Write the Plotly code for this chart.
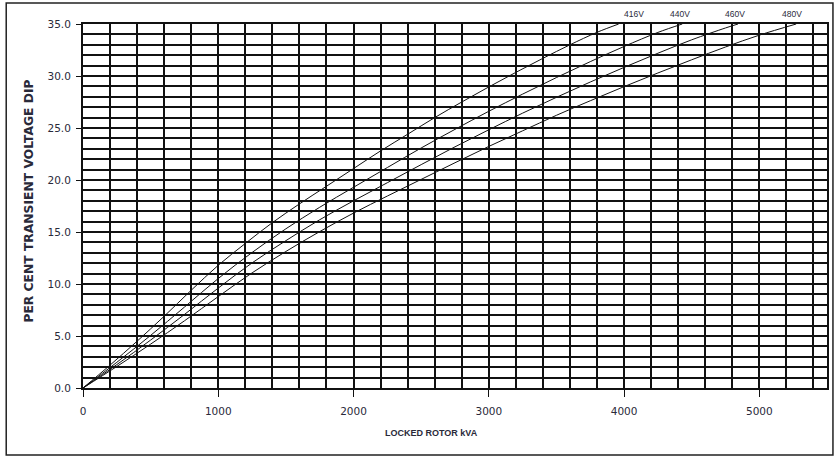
import plotly.graph_objects as go

# ---- data ----
x_416 = [0, 200, 400, 600, 800, 1000, 1200, 1400, 1600, 1800, 2000, 2200, 2400, 2600, 2800, 3000, 3200, 3400, 3600, 3800, 3960]
y_416 = [0, 2.2, 4.5, 6.9, 9.4, 11.8, 13.9, 15.9, 17.7, 19.4, 21.1, 22.8, 24.4, 26.0, 27.5, 28.95, 30.35, 31.7, 33.0, 34.2, 35.0]

x_440 = [0, 250, 500, 750, 1000, 1250, 1500, 1750, 2000, 2250, 2500, 2750, 3000, 3250, 3500, 3750, 4000, 4250, 4430]
y_440 = [0, 2.47, 5.06, 7.78, 10.53, 13.03, 15.31, 17.38, 19.30, 21.20, 23.08, 24.87, 26.61, 28.26, 29.85, 31.38, 32.84, 34.19, 35.0]

x_460 = [0, 250, 500, 750, 1000, 1250, 1500, 1750, 2000, 2250, 2500, 2750, 3000, 3250, 3500, 3750, 4000, 4250, 4500, 4750, 4842]
y_460 = [0, 2.25, 4.61, 7.07, 9.61, 12.03, 14.17, 16.18, 18.0, 19.74, 21.48, 23.19, 24.83, 26.43, 27.95, 29.42, 30.83, 32.19, 33.48, 34.62, 35.0]

x_480 = [0, 250, 500, 750, 1000, 1250, 1500, 1750, 2000, 2250, 2500, 2750, 3000, 3250, 3500, 3750, 4000, 4250, 4500, 4750, 5000, 5272]
y_480 = [0, 2.07, 4.22, 6.46, 8.79, 11.07, 13.13, 15.04, 16.82, 18.46, 20.06, 21.66, 23.23, 24.73, 26.22, 27.62, 28.98, 30.29, 31.56, 32.79, 33.93, 35.0]

curve_labels = ["416V", "440V", "460V", "480V"]
label_x = [4070, 4410, 4823, 5243]

x_ticks = [0, 1000, 2000, 3000, 4000, 5000]
y_ticks = [0, 5, 10, 15, 20, 25, 30, 35]

FONT = "Liberation Sans, Arial, sans-serif"
TICKFONT = "DejaVu Sans, sans-serif"
TXT = "#2a2a3a"

fig = go.Figure()
for xs, ys in [(x_416, y_416), (x_440, y_440), (x_460, y_460), (x_480, y_480)]:
    fig.add_trace(go.Scatter(x=xs, y=ys, mode="lines",
                             line=dict(color="#111111", width=1, shape="spline"),
                             showlegend=False, hoverinfo="skip"))

for lab, lx in zip(curve_labels, label_x):
    fig.add_annotation(x=lx, y=35, xref="x", yref="y", text=lab, showarrow=False,
                       yshift=10, font=dict(family=FONT, size=8.5, color=TXT))

fig.add_annotation(x=-0.073, y=0.514, xref="paper", yref="paper",
                   xanchor="center", yanchor="middle",
                   text="<b>PER CENT TRANSIENT VOLTAGE DIP</b>", textangle=-90,
                   showarrow=False, font=dict(family="DejaVu Sans, sans-serif", size=12.3, color=TXT))
fig.add_annotation(x=0.4685, y=-0.124, xref="paper", yref="paper",
                   xanchor="center", yanchor="middle",
                   text="<b>LOCKED ROTOR kVA</b>", showarrow=False,
                   font=dict(family=FONT, size=9, color=TXT))

# outer frame
fig.add_shape(type="rect", xref="paper", yref="paper",
              x0=-0.1032, x1=1.008, y0=-0.184, y1=1.0577,
              line=dict(color="#222222", width=1.5), fillcolor="rgba(0,0,0,0)", layer="below")

fig.update_xaxes(range=[0, 5500], tickvals=x_ticks, ticktext=[str(v) for v in x_ticks],
                 ticks="outside", ticklen=7, tickcolor="#111", tickwidth=1,
                 ticklabelstandoff=5,
                 showgrid=True, gridcolor="#111", gridwidth=2,
                 minor=dict(dtick=200, tick0=0, showgrid=True, gridcolor="#111", gridwidth=2, ticks=""),
                 showline=True, linecolor="#111", linewidth=2, mirror=True, zeroline=False,
                 tickfont=dict(family=TICKFONT, size=10.5, color=TXT))
fig.update_yaxes(range=[0, 35], tickvals=y_ticks, ticktext=["%.1f" % v for v in y_ticks],
                 ticks="outside", ticklen=5, tickcolor="#111", tickwidth=1,
                 ticklabelstandoff=3,
                 showgrid=True, gridcolor="#111", gridwidth=2,
                 minor=dict(dtick=1, tick0=0, showgrid=True, gridcolor="#111", gridwidth=2, ticks=""),
                 showline=True, linecolor="#111", linewidth=2, mirror=True, zeroline=False,
                 tickfont=dict(family=TICKFONT, size=10.5, color=TXT))

fig.update_layout(width=838, height=460,
                  margin=dict(l=83, r=9, t=24, b=72),
                  paper_bgcolor="white", plot_bgcolor="white")

fig.write_html("out.html", config={"displayModeBar": False},
               post_script="document.body.style.margin='0px';")
